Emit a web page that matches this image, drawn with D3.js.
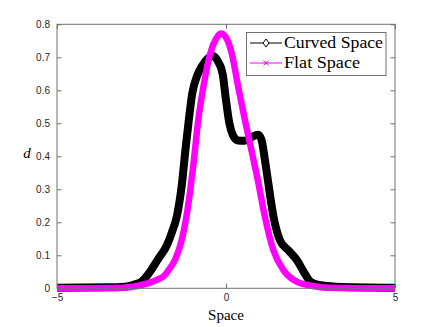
<!DOCTYPE html>
<html><head><meta charset="utf-8">
<script src="https://cdnjs.cloudflare.com/ajax/libs/d3/7.8.5/d3.min.js"></script>
<style>body{margin:0;background:#fff}svg{display:block}</style>
</head><body><div id="chart"></div>
<script>
const xTicks = [-5, 0, 5];
const yTicks = [0, 0.1, 0.2, 0.3, 0.4, 0.5, 0.6, 0.7, 0.8];
const seriesNames = ["Curved Space", "Flat Space"];
const seriesColors = ["#000000", "#ff00ff"];

const curvedX = [-5, -3.5, -3, -2.75, -2.5, -2.25, -2.0, -1.75, -1.6, -1.45, -1.3, -1.2, -1.1, -1.0, -0.85, -0.7, -0.55, -0.4, -0.25, -0.1, 0.0, 0.1, 0.2, 0.35, 0.55, 0.75, 0.95, 1.05, 1.15, 1.25, 1.4, 1.6, 1.85, 2.1, 2.3, 2.5, 2.75, 3.25, 5];
const curvedY = [0.002, 0.003, 0.005, 0.01, 0.02, 0.05, 0.09, 0.13, 0.17, 0.22, 0.32, 0.42, 0.51, 0.59, 0.645, 0.675, 0.695, 0.705, 0.69, 0.65, 0.57, 0.5, 0.465, 0.448, 0.447, 0.458, 0.465, 0.45, 0.39, 0.32, 0.22, 0.145, 0.115, 0.085, 0.05, 0.02, 0.01, 0.005, 0.002];

const flatX = [-5, -3, -2.75, -2.5, -2.25, -2.0, -1.85, -1.7, -1.5, -1.3, -1.1, -0.97, -0.82, -0.67, -0.47, -0.3, -0.15, 0, 0.17, 0.36, 0.56, 0.76, 0.96, 1.15, 1.4, 1.7, 2.09, 2.57, 3, 5];
const flatY = [0, 0.002, 0.005, 0.01, 0.017, 0.028, 0.036, 0.055, 0.088, 0.15, 0.265, 0.37, 0.51, 0.61, 0.71, 0.755, 0.772, 0.76, 0.712, 0.611, 0.51, 0.415, 0.318, 0.217, 0.116, 0.055, 0.02, 0.007, 0.002, 0];

const W = 436, H = 327;
const m = {left: 57, right: 41, top: 24.3, bottom: 38.7};
const svg = d3.select("#chart").append("svg").attr("width", W).attr("height", H);
const x = d3.scaleLinear().domain([-5, 5]).range([m.left, W - m.right]);
const y = d3.scaleLinear().domain([0, 0.8]).range([H - m.bottom, m.top]);

const axisColor = "#707070";
const textColor = "#262626";

// curves
const line = d3.line().x(d => x(d[0])).y(d => y(d[1])).curve(d3.curveMonotoneX);
const curved = curvedX.map((v, i) => [v, curvedY[i]]);
const flat = flatX.map((v, i) => [v, flatY[i]]);
svg.append("path").datum(curved).attr("d", line).attr("fill", "none")
  .attr("stroke", seriesColors[0]).attr("stroke-width", 8).attr("stroke-linejoin", "round").attr("stroke-linecap", "butt");
svg.append("path").datum(flat).attr("d", line).attr("fill", "none")
  .attr("stroke", seriesColors[1]).attr("stroke-width", 6.5).attr("stroke-linejoin", "round").attr("stroke-linecap", "butt");

// axes
const gx = svg.append("g").attr("transform", `translate(0,${y(0)})`)
  .call(d3.axisBottom(x).tickValues(xTicks).tickSize(-4.5).tickPadding(6).tickFormat(d3.format("d")));
const gy = svg.append("g").attr("transform", `translate(${m.left},0)`)
  .call(d3.axisLeft(y).tickValues(yTicks).tickSize(-4.5).tickPadding(7).tickFormat(d => d === 0 ? "0" : d3.format(".1f")(d)));
const gx2 = svg.append("g").attr("transform", `translate(0,${y(0.8)})`)
  .call(d3.axisTop(x).tickValues(xTicks).tickSize(-4.5).tickFormat(""));
const gy2 = svg.append("g").attr("transform", `translate(${W - m.right},0)`)
  .call(d3.axisRight(y).tickValues(yTicks).tickSize(-4.5).tickFormat(""));
[gx, gy, gx2, gy2].forEach(g => {
  g.selectAll("path.domain").remove();
  g.selectAll(".tick line").attr("stroke", axisColor);
  g.selectAll("text").attr("fill", textColor).style("font-family", "'Liberation Sans', Arial, sans-serif").style("font-size", "10px");
});
svg.append("rect").attr("x", x(-5)).attr("y", y(0.8)).attr("width", x(5) - x(-5)).attr("height", y(0) - y(0.8))
  .attr("fill", "none").attr("stroke", axisColor).attr("stroke-width", 1);

// labels
svg.append("text").attr("x", x(0)).attr("y", 320).attr("text-anchor", "middle")
  .style("font-family", "'Liberation Serif', 'DejaVu Serif', serif").style("font-size", "15px").attr("fill", "#000").text("Space");
svg.append("text").attr("x", 27).attr("y", 158).attr("text-anchor", "middle")
  .style("font-family", "'Liberation Serif', 'DejaVu Serif', serif").style("font-style", "italic").style("font-size", "15px").attr("fill", "#000").text("d");

// legend
const lg = svg.append("g");
lg.append("rect").attr("x", 246.5).attr("y", 32.5).attr("width", 139.5).attr("height", 43)
  .attr("fill", "#fff").attr("stroke", axisColor).attr("stroke-width", 1);
const rows = [43, 63];
seriesNames.forEach((name, i) => {
  const cy = rows[i];
  lg.append("line").attr("x1", 250).attr("x2", 282).attr("y1", cy).attr("y2", cy)
    .attr("stroke", seriesColors[i]).attr("stroke-width", 1);
  if (i === 0) {
    lg.append("path").attr("d", `M266,${cy-4}L269,${cy}L266,${cy+4}L263,${cy}Z`)
      .attr("fill", "#fff").attr("stroke", "#000").attr("stroke-width", 1);
  } else {
    lg.append("path").attr("d", `M263.5,${cy-2.5}L268.5,${cy+2.5}M263.5,${cy+2.5}L268.5,${cy-2.5}`)
      .attr("stroke", seriesColors[1]).attr("stroke-width", 1);
  }
  lg.append("text").attr("x", 284).attr("y", cy + 5).attr("textLength", i === 0 ? 99 : 76).attr("lengthAdjust", "spacingAndGlyphs")
    .style("font-family", "'Liberation Serif', 'DejaVu Serif', serif").style("font-size", "16px").attr("fill", "#000").text(name);
});
</script></body></html>
